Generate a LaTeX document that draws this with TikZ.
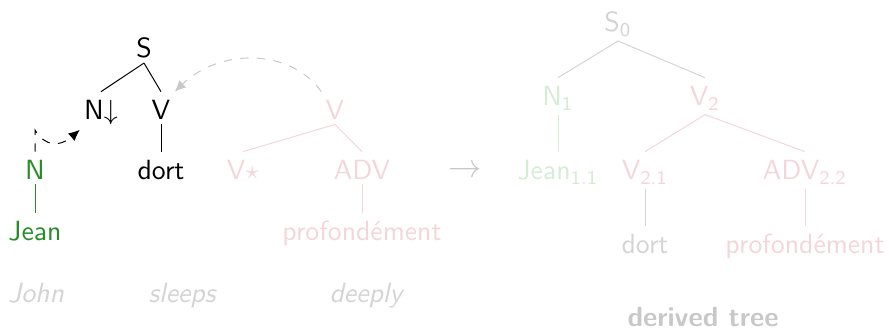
\documentclass[tikz,border=0pt]{standalone}
\usetikzlibrary{arrows.meta}
\renewcommand{\familydefault}{\sfdefault}
\definecolor{dgreen}{RGB}{40,140,40}
\definecolor{lpink}{RGB}{243,214,218}
\definecolor{lgreen}{RGB}{214,236,214}
\definecolor{lgrey}{RGB}{212,212,212}
\definecolor{mgrey}{RGB}{200,200,200}
\begin{document}
\begin{tikzpicture}[x=0.36pt,y=-0.36pt,
  tn/.style={anchor=base,inner sep=1.4pt,text height=8.6pt},
  edge/.style={line width=0.36pt},
  gloss/.style={anchor=base,inner sep=0pt,font=\itshape,text=lgrey}]
\useasboundingbox (0,0) rectangle (889,332);
% left initial tree
\node[tn] (S) at (144,58) {S};
\node[tn] (Nd) at (101,120) {N$\downarrow$};
\node[tn] (V) at (161,120) {V};
\node[tn] (dort) at (161,180) {dort};
\draw[edge] (S.south) -- (Nd.north);
\draw[edge] (S.south) -- (V.north);
\draw[edge] (V.south) -- (dort.north);
% green tree
\node[tn,text=dgreen] (N) at (35,180) {N};
\node[tn,text=dgreen] (Jean) at (35,241) {Jean};
\draw[edge,dgreen] (N.south) -- (Jean.north);
% pink auxiliary tree
\node[tn,text=lpink] (pV) at (335,120) {V};
\node[tn,text=lpink] (Vs) at (243,180) {V$\star$};
\node[tn,text=lpink] (ADV) at (362,180) {ADV};
\node[tn,text=lpink] (prof) at (362,241) {profondément};
\draw[edge,lpink] (pV.south) -- (Vs.north);
\draw[edge,lpink] (pV.south) -- (ADV.north);
\draw[edge,lpink] (ADV.south) -- (prof.north);
% operations
\coordinate (ktop) at (35,130);
\draw[edge,dashed,-{Latex[length=4pt,width=3.6pt]}] (N.north) -- (ktop) .. controls (45,147) and (60,147) .. (Nd.south west);
\draw[edge,dashed,mgrey,-{Latex[length=4pt,width=3.6pt]}] (pV.north west) .. controls (290,48) and (220,48) .. (V.north east);
% arrow
\node[anchor=base,inner sep=0pt,text=mgrey,font=\large] (arr) at (465,178) {$\rightarrow$};
% derived tree
\node[tn,text=lgrey] (S0) at (618,32) {S\textsubscript{0}};
\node[tn,text=lgreen] (N1) at (558,106) {N\textsubscript{1}};
\node[tn,text=lpink] (V2) at (705,106) {V\textsubscript{2}};
\node[tn,text=lgreen] (J11) at (558,180) {Jean\textsubscript{1.1}};
\node[tn,text=lpink] (V21) at (645,180) {V\textsubscript{2.1}};
\node[tn,text=lpink] (A22) at (805,180) {ADV\textsubscript{2.2}};
\node[tn,text=lgrey] (dort2) at (645,254) {dort};
\node[tn,text=lpink] (prof2) at (805,254) {profondément};
\draw[edge,lgrey] (S0.south) -- (N1.north);
\draw[edge,lgrey] (S0.south) -- (V2.north);
\draw[edge,lgreen] (N1.south) -- (J11.north);
\draw[edge,lpink] (V2.south) -- (V21.north);
\draw[edge,lpink] (V2.south) -- (A22.north);
\draw[edge,lgrey] (V21.south) -- (dort2.north);
\draw[edge,lpink] (A22.south) -- (prof2.north);
% glosses
\node[gloss] (john) at (36,303) {John};
\node[gloss] (sleeps) at (182,303) {sleeps};
\node[gloss] (deeply) at (366,303) {deeply};
\node[anchor=base,inner sep=0pt,text=mgrey,font=\bfseries] (dt) at (703,327) {derived tree};
\end{tikzpicture}
\end{document}
